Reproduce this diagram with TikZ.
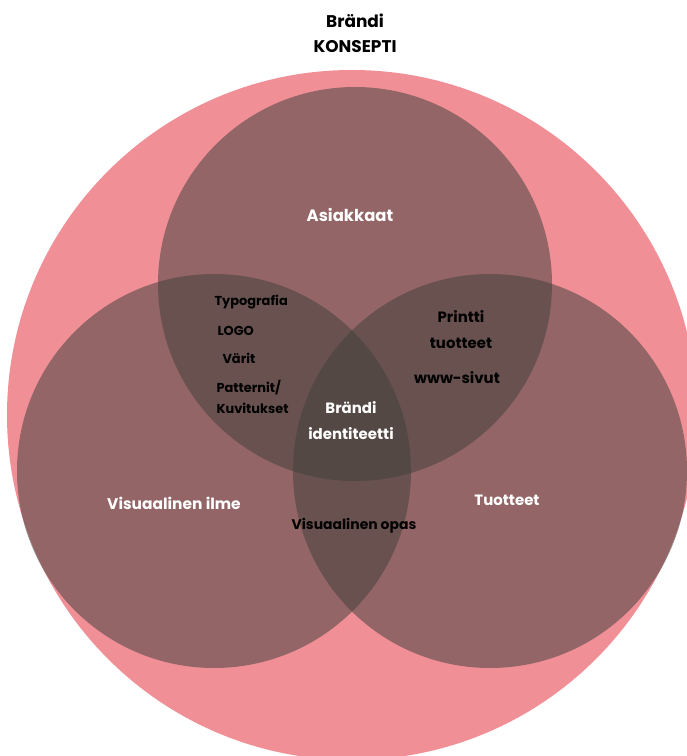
\documentclass[tikz,border=0pt]{standalone}
\usepackage{fontspec}
\setmainfont{Poppins}
\usepackage{tikz}
\definecolor{konsepti}{RGB}{240,144,150}
\definecolor{setshade}{RGB}{66,64,60}

\begin{document}
\begin{tikzpicture}[x=1bp, y=-1bp,
	set circle/.style={circle, fill=setshade, fill opacity=0.53, minimum size=394bp, inner sep=0pt},
	light label/.style={text=white, font=\bfseries\fontsize{15.5}{18}\selectfont, align=center},
	dark label/.style={text=black, font=\bfseries\fontsize{13}{15}\selectfont, align=center}]
	\fill[white] (0,0) rectangle (687,756);
	\useasboundingbox (0,0) rectangle (687,756);
	\clip (0,0) rectangle (687,756);
	% outer circle
	\fill[konsepti] (352,415) circle (345);
	\node[set circle] (asiakkaat) at (355,284) {};
	\node[set circle] (ilme) at (214,471) {};
	\node[set circle] (tuotteet) at (490,471) {};
	% titles
	\node[font=\bfseries\fontsize{17}{25}\selectfont, align=center] (title) at (355,33) {Brändi\\KONSEPTI};
	\node[light label, font=\bfseries\fontsize{16.5}{18}\selectfont] (asiakkaatlabel) at (350,215) {Asiakkaat};
	\node[light label] (ilmelabel) at (174,503) {Visuaalinen ilme};
	\node[light label, font=\bfseries\fontsize{15}{18}\selectfont] (tuotteetlabel) at (507,500) {Tuotteet};
	\node[light label, font=\bfseries\fontsize{15}{26}\selectfont] (identiteetti) at (351,421) {Brändi\\identiteetti};
	% overlaps
	\node[dark label, anchor=west] (typo) at (211,302) {Typografia};
	\node[dark label, anchor=west] (logo) at (214,331) {LOGO};
	\node[dark label, anchor=west] (varit) at (219,358) {Värit};
	\node[dark label, anchor=west, align=left, font=\bfseries\fontsize{13}{21}\selectfont] (patternit) at (213,397) {Patternit/\\Kuvitukset};
	\node[dark label, font=\bfseries\fontsize{15}{26}\selectfont] (printti) at (461,330) {Printti\\tuotteet};
	\node[dark label, font=\bfseries\fontsize{15}{17}\selectfont] (www) at (457,378) {www-sivut};
	\node[dark label, font=\bfseries\fontsize{14}{16}\selectfont] (opas) at (354,526) {Visuaalinen opas};
\end{tikzpicture}
\end{document}
